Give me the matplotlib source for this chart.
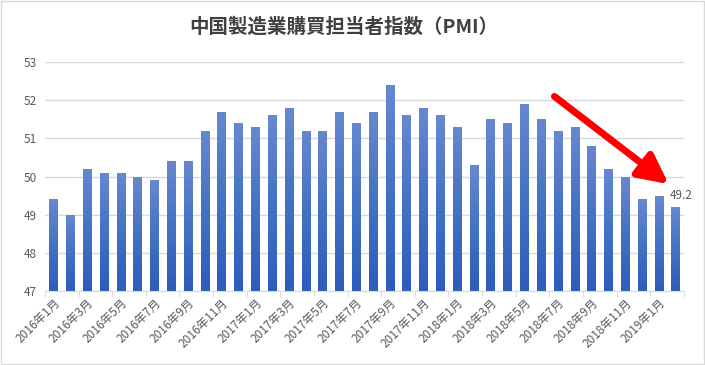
import numpy as np
import matplotlib.pyplot as plt
from matplotlib.colors import LinearSegmentedColormap
from matplotlib.patches import Rectangle

plt.rcParams['font.family'] = ['Noto Sans CJK JP', 'DejaVu Sans']

months = [f"{y}年{m}月" for y in (2016, 2017, 2018) for m in range(1, 13)] + ["2019年1月", "2019年2月"]
pmi = [49.4, 49.0, 50.2, 50.1, 50.1, 50.0, 49.9, 50.4, 50.4, 51.2, 51.7, 51.4,
       51.3, 51.6, 51.8, 51.2, 51.2, 51.7, 51.4, 51.7, 52.4, 51.6, 51.8, 51.6,
       51.3, 50.3, 51.5, 51.4, 51.9, 51.5, 51.2, 51.3, 50.8, 50.2, 50.0, 49.4,
       49.5, 49.2]
title = "中国製造業購買担当者指数（PMI）"

fig = plt.figure(figsize=(7.05, 3.65), dpi=100)
ax = fig.add_axes([0.0638, 0.2027, 0.9062, 0.6273])
fig.patches.append(Rectangle((0.002, 0.003), 0.996, 0.994, transform=fig.transFigure,
                             fill=False, edgecolor='#d9d9d9', lw=1))

x = np.arange(len(pmi))
bars = ax.bar(x, pmi, width=0.48, bottom=0, color='none', zorder=2)
cmap = LinearSegmentedColormap.from_list('g', ['#2e5cba', '#4472c4', '#6788d0'])
grad = np.linspace(0, 1, 100).reshape(-1, 1)
for b in bars:
    x0 = b.get_x()
    im = ax.imshow(grad, cmap=cmap, origin='lower', aspect='auto',
                   extent=(x0, x0 + b.get_width(), 47, b.get_height()), zorder=2)
    im.set_clip_path(b)

ax.set_xlim(-0.5, len(pmi) - 0.5)
ax.set_ylim(47, 53)
ax.set_yticks(range(47, 54))
ax.grid(axis='y', color='#d9d9d9', lw=1, zorder=0)
for s in ('top', 'right', 'left'):
    ax.spines[s].set_visible(False)
ax.spines['bottom'].set_color('#d9d9d9')
ax.tick_params(axis='y', length=0, labelsize=8.5, labelcolor='#595959', pad=6)

ax.set_xticks(x[::2])
ax.set_xticklabels(months[::2], rotation=45, ha='right', rotation_mode='anchor',
                   fontsize=8.5, color='#595959')
ax.tick_params(axis='x', which='major', length=0, pad=4)
ax.set_xticks(np.arange(-0.5, len(pmi), 2), minor=True)
ax.tick_params(axis='x', which='minor', length=4, color='#d9d9d9')

ax.text(x[-1] - 0.35, pmi[-1] + 0.3, f"{pmi[-1]}", fontsize=8.5, color='#595959', va='center')

ax.annotate('', xy=(36.6, 49.8), xytext=(29.8, 52.1),
            arrowprops=dict(arrowstyle='-|>,head_length=0.9,head_width=0.45', lw=5,
                            color='#ff0000', mutation_scale=20, shrinkA=0, shrinkB=0),
            annotation_clip=False, zorder=5)

fig.text(0.487, 0.925, title, ha='center', va='center', fontsize=14,
         fontweight='bold', color='#404040')

fig.savefig('out.png', dpi=100)
